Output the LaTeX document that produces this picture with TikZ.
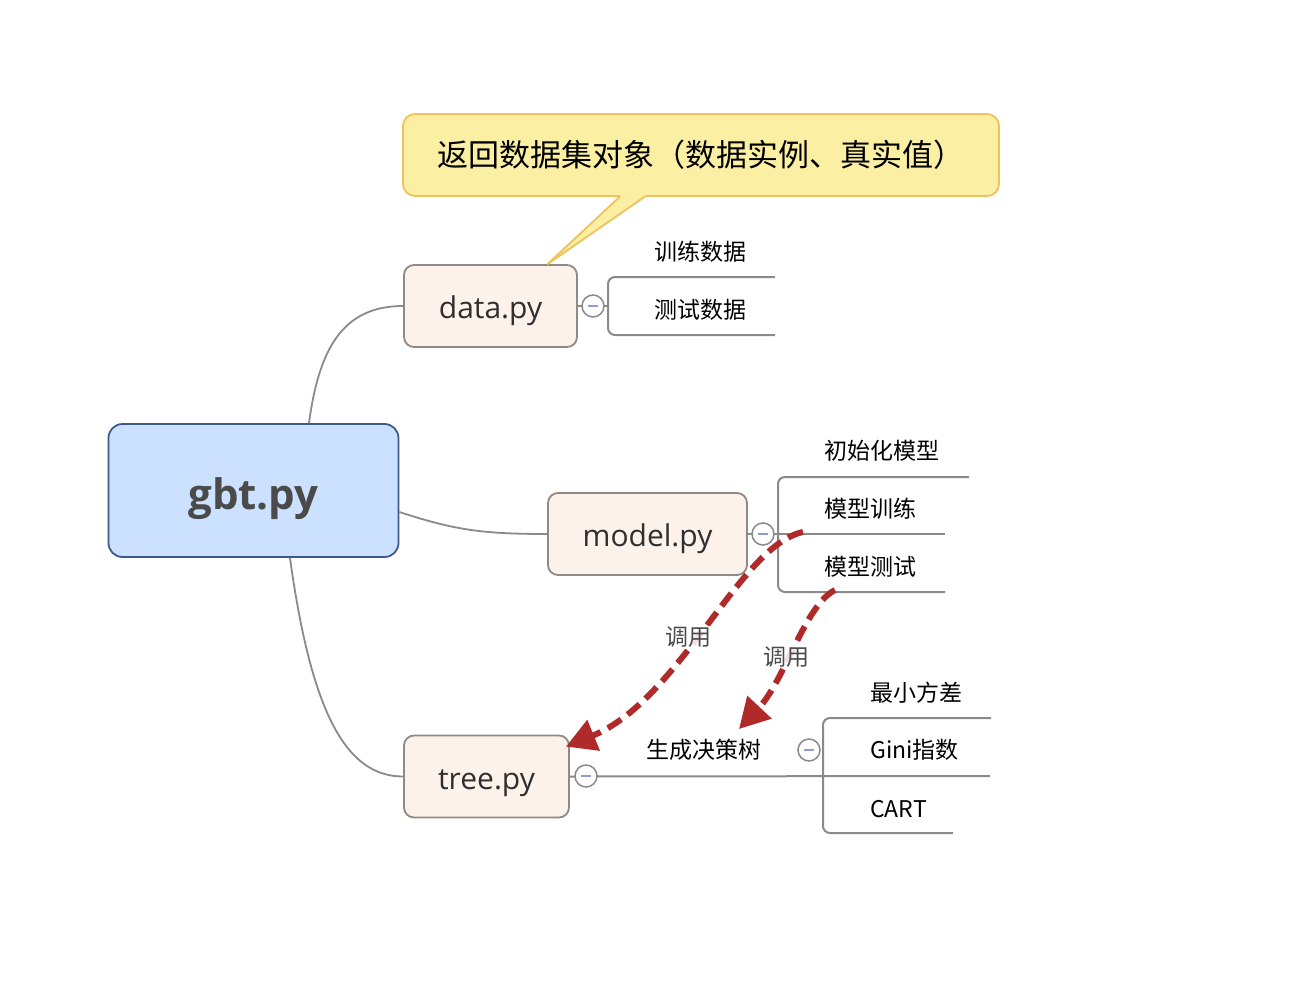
\documentclass[tikz,border=0pt]{standalone}
\usepackage{fontspec}
\setmainfont{Open Sans}
\newfontfamily\cjk{Noto Sans CJK SC}
\usetikzlibrary{arrows.meta,positioning,calc}
\definecolor{gbRoot}{HTML}{CCE0FF}
\definecolor{gbRootLine}{HTML}{3C5A8C}
\definecolor{gbInk}{HTML}{4A4A4A}
\definecolor{gbTopic}{HTML}{FDF2EA}
\definecolor{gbTopicLine}{HTML}{8E8A85}
\definecolor{gbText}{HTML}{2F2F2F}
\definecolor{gbNote}{HTML}{FBEFA3}
\definecolor{gbNoteLine}{HTML}{F0C35A}
\definecolor{gbLine}{HTML}{8A8A8A}
\definecolor{gbMinus}{HTML}{8C9CD6}
\definecolor{gbRed}{HTML}{B02A2A}
\begin{document}
\begin{tikzpicture}[x=1pt, y=-1pt,
  root/.style={draw=gbRootLine, fill=gbRoot, line width=1.8pt, rounded corners=14pt, minimum width=290pt, minimum height=133pt, text=gbInk, text height=48pt, text depth=10pt, font=\fontsize{42}{50}\selectfont\bfseries},
  topic/.style={draw=gbTopicLine, fill=gbTopic, line width=1.8pt, rounded corners=10pt, minimum height=82pt, text=gbText, text height=33pt, text depth=7.5pt, font=\fontsize{30}{36}\selectfont},
  note/.style={draw=gbNoteLine, fill=gbNote, line width=1.8pt, rounded corners=12pt, minimum width=596pt, minimum height=82pt, text=black, font=\cjk\fontsize{31}{36}\selectfont},
  leaf/.style={anchor=west, inner sep=0pt, text=black, font=\cjk\fontsize{23}{28}\selectfont},
  fold/.style={circle, draw=gbLine, line width=1.5pt, fill=white, minimum size=22pt, inner sep=0pt,
    path picture={\draw[gbMinus, line width=2pt] ($(path picture bounding box.center)+(-5pt,0pt)$) -- ++(10pt,0pt);}},
  branch/.style={draw=gbLine, line width=2pt},
  link/.style={draw=gbLine, line width=1.8pt},
  call/.style={draw=gbRed, line width=6pt, dash pattern=on 16pt off 8pt, -{Triangle[length=30pt,width=32pt]}},
  calltxt/.style={fill=white, fill opacity=0.85, text opacity=1, text=gbInk, inner sep=1pt, font=\cjk\fontsize{23}{28}\selectfont}]
\useasboundingbox[fill=white] (0,0) rectangle (1296,990);

% ── topics ──
\node[root] (gbt) at (253.5,490.5) {gbt.py};
\node[topic, minimum width=173pt] (data) at (490.5,306) {data.py};
\node[topic, minimum width=199pt] (model) at (647.5,534) {model.py};
\node[topic, minimum width=165pt] (tree) at (486.5,776.5) {tree.py};

\draw[link] ($(gbt.north)+(55.5,0)$) .. controls +(10,-75) and +(-60,0) .. (data.west);
\draw[link] ($(gbt.east)+(0,21.5)$) .. controls +(55,18) and +(-65,0) .. (model.west);
\draw[link] ($(gbt.south)+(36.5,0)$) .. controls +(22,160) and +(-55,0) .. (tree.west);

% ── data.py ──
\coordinate (dk) at (608,306);
\draw[branch] (data.east) -- (dk);
\draw[branch, rounded corners=7pt] (775,277) -- (608,277) -- (608,335) -- (775,335);
\node[fold] (dfold) at (593,306) {};
\node[leaf] (dtrain) at (654,252) {训练数据};
\node[leaf] (dtest) at (654,310) {测试数据};

% ── model.py ──
\coordinate (mk) at (945,534);
\draw[branch] (model.east) -- (mk);
\draw[branch, rounded corners=7pt] (969,477) -- (778,477) -- (778,592) -- (945,592);
\node[fold] (mfold) at (763,534) {};
\node[leaf] (minit) at (824,451) {初始化模型};
\node[leaf] (mtrain) at (824,509) {模型训练};
\node[leaf] (mtest) at (824,567) {模型测试};

% ── tree.py ──
\coordinate (tk) at (990,776);
\draw[branch] (tree.east) -- (tk);
\draw[branch, rounded corners=7pt] (991,718) -- (823,718) -- (823,833) -- (953,833);
\node[fold] (tfold) at (586,776) {};
\node[leaf] (tgrow) at (646,750) {生成决策树};
\node[fold] (gfold) at (809,750) {};
\node[leaf] (gmin) at (870,693) {最小方差};
\node[leaf] (ggini) at (870,750) {Gini指数};
\node[leaf] (gcart) at (870,809) {CART};

% ── callout ──
\node[note] (ret) at (701,155) {返回数据集对象（数据实例、真实值）};
\coordinate (rtip) at ($(data.north)+(57,0)$);
\fill[gbNote] (623,193) -- (rtip) -- (649,193) -- cycle;
\draw[gbNoteLine, line width=1.8pt, line join=round] (620,196.5) -- (rtip) -- (645,196.5);

% ── calls ──
\coordinate (c1s) at (803,532);
\coordinate (c1e) at ($(tree.north east)+(-4,12)$);
\coordinate (c2s) at (835,590);
\coordinate (c2e) at (739,729);
\draw[call] (c1s) .. controls (740,545) and (680,700) .. (c1e);
\draw[call] (c2s) .. controls (805,605) and (785,680) .. (c2e);
\node[calltxt] (call1) at (688,637) {调用};
\node[calltxt] (call2) at (786,657) {调用};
\end{tikzpicture}
\end{document}
